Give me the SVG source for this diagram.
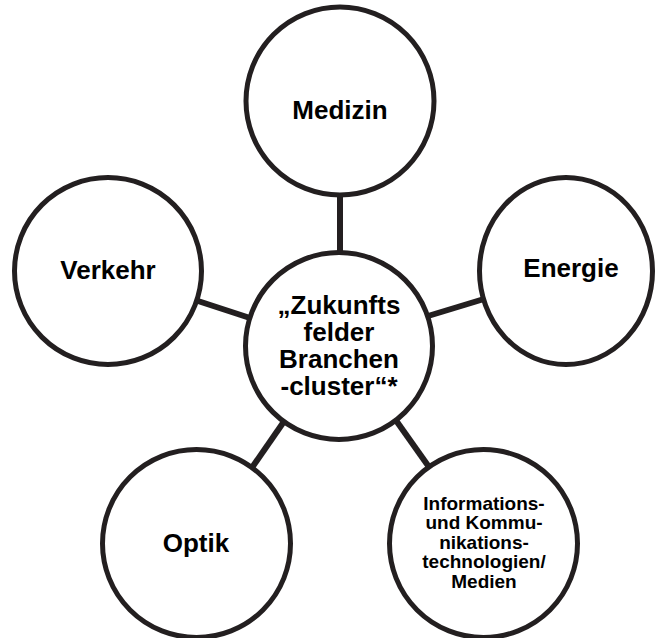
<svg xmlns="http://www.w3.org/2000/svg" width="657" height="638" viewBox="0 0 657 638">
<style>
.n{fill:#fff;stroke:#231f20;stroke-width:5}
.c{stroke:#231f20;stroke-width:6;fill:none}
.t{font-family:"Liberation Sans",Arial,sans-serif;font-weight:bold;font-size:26px;fill:#000;text-anchor:middle}
.s{font-size:19px}
</style>
<rect width="657" height="638" fill="#fff"/>
<g id="connectors">
<line class="c" x1="340" y1="196" x2="340" y2="254"/>
<line class="c" x1="198" y1="301" x2="250" y2="318"/>
<line class="c" x1="428" y1="316" x2="484" y2="299"/>
<line class="c" x1="285" y1="420" x2="251" y2="469"/>
<line class="c" x1="395" y1="419" x2="429" y2="467"/>
</g>
<g id="medizin"><circle class="n" cx="340" cy="101" r="94"/><text class="t" x="340" y="119">Medizin</text></g>
<g id="verkehr"><circle class="n" cx="108" cy="271" r="93.5"/><text class="t" x="108" y="279">Verkehr</text></g>
<g id="energie"><ellipse class="n" cx="566" cy="271" rx="86.5" ry="93.5"/><text class="t" x="571" y="277">Energie</text></g>
<g id="zentrum"><circle class="n" cx="339" cy="346" r="93.5"/>
<text class="t" x="339" y="314">„Zukunfts</text>
<text class="t" x="339" y="341">felder</text>
<text class="t" x="339" y="368">Branchen</text>
<text class="t" x="339" y="395">-cluster“*</text></g>
<g id="optik"><circle class="n" cx="196.5" cy="543.5" r="94"/><text class="t" x="196" y="552">Optik</text></g>
<g id="ikt"><circle class="n" cx="483.5" cy="543.5" r="94"/>
<text class="t s" x="484" y="510">Informations-</text>
<text class="t s" x="484" y="529">und Kommu-</text>
<text class="t s" x="484" y="549">nikations-</text>
<text class="t s" x="484" y="568">technologien/</text>
<text class="t s" x="484" y="588">Medien</text></g>
</svg>
